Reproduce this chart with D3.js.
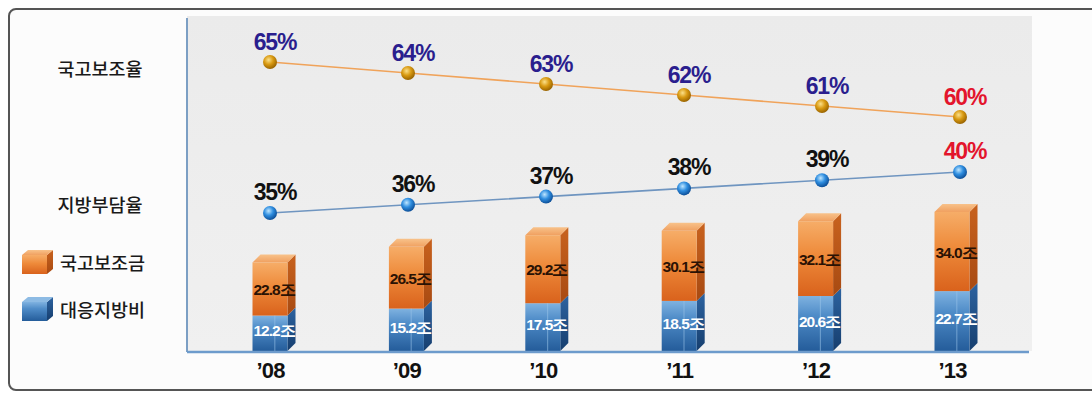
<!DOCTYPE html>
<html><head><meta charset="utf-8">
<script src="https://cdn.jsdelivr.net/npm/d3@7"></script>
<style>
html,body{margin:0;padding:0;background:#fff;}
svg{display:block;}
</style></head>
<body>
<svg id="c" width="1092" height="393"></svg>
<script>
const years = ["\u201908","\u201909","\u201910","\u201911","\u201912","\u201913"];
const nationalSubsidy = [22.8, 26.5, 29.2, 30.1, 32.1, 34.0];
const localMatching = [12.2, 15.2, 17.5, 18.5, 20.6, 22.7];
const nationalRate = [65, 64, 63, 62, 61, 60];
const localRate = [35, 36, 37, 38, 39, 40];
const seriesNames = ["국고보조금", "대응지방비"];
const rateNames = ["국고보조율", "지방부담율"];

const svg = d3.select("#c");
const defs = svg.append("defs");

function lg(id, stops, x2, y2){
  const g = defs.append("linearGradient").attr("id", id)
    .attr("x1",0).attr("y1",0).attr("x2",x2).attr("y2",y2);
  stops.forEach(s=>g.append("stop").attr("offset",s[0]).attr("stop-color",s[1]));
}
lg("oFront", [[0,"#f6ad68"],[0.45,"#ee8a3a"],[1,"#d9621c"]], 0, 1);
lg("bFront", [[0,"#7fb2e0"],[0.35,"#4f8cc8"],[1,"#245c9a"]], 0, 1);
lg("oSide", [[0,"#c8621e"],[1,"#a84a12"]], 0, 1);
lg("bSide", [[0,"#2d63a0"],[1,"#163e6e"]], 0, 1);
lg("oTop", [[0,"#f8c28a"],[1,"#f0a060"]], 0, 1);
lg("plotBg", [[0,"#ebebeb"],[1,"#f0f0f0"]], 0, 1);

function rg(id, c0, c1, c2){
  const g = defs.append("radialGradient").attr("id", id)
    .attr("cx","40%").attr("cy","35%").attr("r","65%");
  g.append("stop").attr("offset",0).attr("stop-color",c0);
  g.append("stop").attr("offset",0.5).attr("stop-color",c1);
  g.append("stop").attr("offset",1).attr("stop-color",c2);
}
rg("goldBall", "#fbe08a", "#d99a12", "#9a6400");
rg("blueBall", "#bfe6ff", "#2f8ee0", "#0d4f98");

// outer frame
svg.append("rect").attr("x",9).attr("y",9).attr("width",1110).attr("height",381)
  .attr("rx",7).attr("fill","#fcfcfc").attr("stroke","#555").attr("stroke-width",2);

// plot area
const plot = {left:187, right:1032, top:16, bottom:351};
svg.append("rect").attr("x",plot.left).attr("y",plot.top)
  .attr("width",plot.right-plot.left).attr("height",plot.bottom-plot.top)
  .attr("fill","url(#plotBg)");

// scales
const xBar = d3.scalePoint().domain(years).range([270, 952]);
const xLine = d3.scalePoint().domain(years).range([270, 960]);
const yBar = d3.scaleLinear().domain([-3, 60]).range([plot.bottom, plot.bottom - 63*2.33]);
const yNat = d3.scaleLinear().domain([60, 65]).range([117, 62]);
const yLoc = d3.scaleLinear().domain([35, 40]).range([213, 172]);

const bw = 35, dx = 8, dy = 8;
const nfont = "Liberation Sans, Arial, sans-serif";

// bars
const bars = svg.append("g");
years.forEach((yr,i)=>{
  const cx = xBar(yr), x0 = cx - bw/2;
  const yb = yBar(-3), ym = yBar(localMatching[i]), yt = yBar(localMatching[i] + nationalSubsidy[i]);
  const g = bars.append("g");
  g.append("path").attr("d", `M${x0+bw},${yb} L${x0+bw+dx},${yb-dy} L${x0+bw+dx},${ym-dy} L${x0+bw},${ym} Z`).attr("fill","url(#bSide)");
  g.append("path").attr("d", `M${x0+bw},${ym} L${x0+bw+dx},${ym-dy} L${x0+bw+dx},${yt-dy} L${x0+bw},${yt} Z`).attr("fill","url(#oSide)");
  g.append("path").attr("d", `M${x0},${yt} L${x0+dx},${yt-dy} L${x0+bw+dx},${yt-dy} L${x0+bw},${yt} Z`).attr("fill","url(#oTop)");
  g.append("rect").attr("x",x0).attr("y",ym).attr("width",bw).attr("height",yb-ym).attr("fill","url(#bFront)");
  g.append("rect").attr("x",x0).attr("y",yt).attr("width",bw).attr("height",ym-yt).attr("fill","url(#oFront)");
  g.append("rect").attr("x",x0+bw*0.62).attr("y",ym).attr("width",1.2).attr("height",yb-ym).attr("fill","#9cc6ea").attr("opacity",0.5);
  g.append("text").attr("x",cx+4).attr("y",(yt+ym)/2+6).attr("text-anchor","middle")
    .attr("font-family",nfont).attr("font-weight","bold")
    .attr("font-size",15.5).attr("letter-spacing",-1).attr("fill","#2a1204")
    .text(nationalSubsidy[i].toFixed(1)+"조");
  g.append("text").attr("x",cx+4).attr("y",(ym+yb)/2+3).attr("text-anchor","middle")
    .attr("font-family",nfont).attr("font-weight","bold")
    .attr("font-size",15.5).attr("letter-spacing",-1).attr("fill","#ffffff")
    .text(localMatching[i].toFixed(1)+"조");
});

// axes lines
svg.append("line").attr("x1",plot.left).attr("x2",plot.left).attr("y1",18).attr("y2",plot.bottom+1)
  .attr("stroke","#7c9fc4").attr("stroke-width",2);
svg.append("line").attr("x1",plot.left).attr("x2",1029).attr("y1",plot.bottom+1).attr("y2",plot.bottom+1)
  .attr("stroke","#6d9bcc").attr("stroke-width",2.5);

// x axis labels
const xAxis = d3.axisBottom(xBar).tickSize(0).tickPadding(0);
const xg = svg.append("g").attr("transform",`translate(0,${plot.bottom+27})`).call(xAxis);
xg.select(".domain").remove();
xg.selectAll("text").attr("font-family",nfont)
  .attr("font-weight","bold").attr("font-size",22).attr("fill","#111").attr("dy",0)
  .attr("letter-spacing",-0.8);

// lines
const natLine = d3.line().x((d,i)=>xLine(years[i])).y(d=>yNat(d));
const locLine = d3.line().x((d,i)=>xLine(years[i])).y(d=>yLoc(d));
svg.append("path").attr("d",natLine(nationalRate)).attr("fill","none").attr("stroke","#f0a35a").attr("stroke-width",1.6);
svg.append("path").attr("d",locLine(localRate)).attr("fill","none").attr("stroke","#6f95c0").attr("stroke-width",1.6);

svg.append("g").selectAll("circle").data(nationalRate).join("circle")
  .attr("cx",(d,i)=>xLine(years[i])).attr("cy",d=>yNat(d)).attr("r",7).attr("fill","url(#goldBall)");
svg.append("g").selectAll("circle").data(localRate).join("circle")
  .attr("cx",(d,i)=>xLine(years[i])).attr("cy",d=>yLoc(d)).attr("r",7).attr("fill","url(#blueBall)");

const last = years.length - 1;
svg.append("g").selectAll("text").data(nationalRate).join("text")
  .attr("x",(d,i)=>xLine(years[i])+5).attr("y",d=>yNat(d)-12).attr("text-anchor","middle")
  .attr("font-family",nfont).attr("font-weight","bold")
  .attr("font-size",23).attr("letter-spacing",-1.2)
  .attr("fill",(d,i)=> i===last ? "#e3142c" : "#2a1e8e").text(d=>d+"%");
svg.append("g").selectAll("text").data(localRate).join("text")
  .attr("x",(d,i)=>xLine(years[i])+5).attr("y",d=>yLoc(d)-13).attr("text-anchor","middle")
  .attr("font-family",nfont).attr("font-weight","bold")
  .attr("font-size",23).attr("letter-spacing",-1.2)
  .attr("fill",(d,i)=> i===last ? "#e3142c" : "#111").text(d=>d+"%");

// left labels
const kfont = "Noto Sans CJK KR, sans-serif";
svg.append("text").attr("x",100).attr("y",76).attr("text-anchor","middle")
  .attr("font-family",kfont).attr("font-weight",500).attr("font-size",18.5).attr("fill","#1a1a1a").text(rateNames[0]);
svg.append("text").attr("x",100).attr("y",212).attr("text-anchor","middle")
  .attr("font-family",kfont).attr("font-weight",500).attr("font-size",18.5).attr("fill","#1a1a1a").text(rateNames[1]);

// legend
const legendY = [250, 297];
const legFill = [["url(#oFront)","url(#oSide)","url(#oTop)"],["url(#bFront)","url(#bSide)","#8dbbe4"]];
legendY.forEach((ly,i)=>{
  const lx = 22, w = 25, h = 19, ddx = 6, ddy = 5;
  const g = svg.append("g");
  g.append("path").attr("d",`M${lx+w},${ly+ddy} L${lx+w+ddx},${ly} L${lx+w+ddx},${ly+h} L${lx+w},${ly+h+ddy} Z`).attr("fill",legFill[i][1]);
  g.append("path").attr("d",`M${lx},${ly+ddy} L${lx+ddx},${ly} L${lx+w+ddx},${ly} L${lx+w},${ly+ddy} Z`).attr("fill",legFill[i][2]);
  g.append("rect").attr("x",lx).attr("y",ly+ddy).attr("width",w).attr("height",h).attr("fill",legFill[i][0]);
  g.append("text").attr("x",60).attr("y",ly+20).attr("font-family",kfont).attr("font-weight",500).attr("font-size",18.5)
    .attr("fill","#1a1a1a").text(seriesNames[i]);
});
</script>
</body></html>
